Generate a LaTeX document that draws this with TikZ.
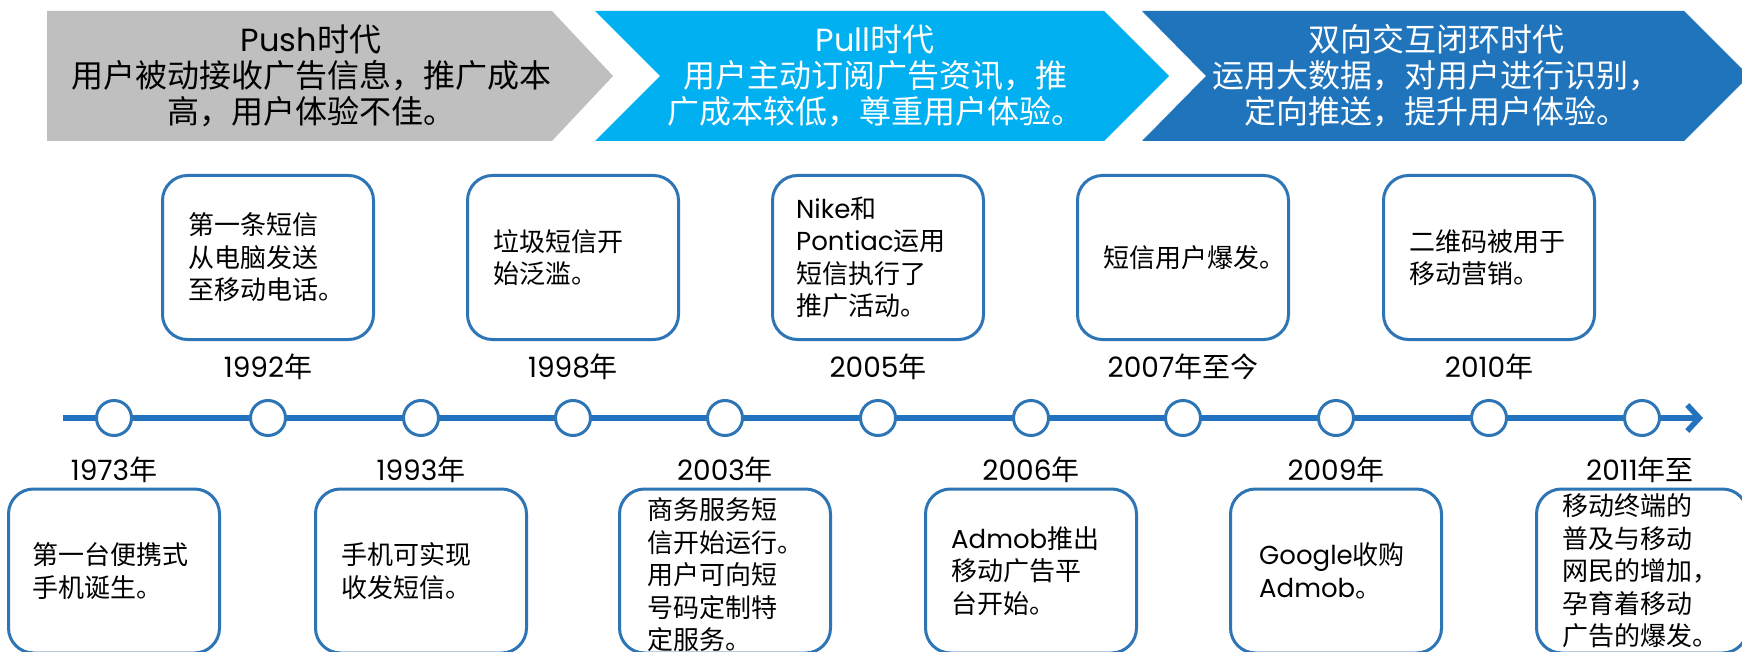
\documentclass[tikz,border=0pt]{standalone}
\usepackage{fontspec}
\setmainfont{Noto Sans CJK SC}
\newfontfamily\lat{Poppins}
\usetikzlibrary{arrows.meta}
\definecolor{tlblue}{HTML}{2272C0}
\definecolor{bordblue}{HTML}{2E75B6}
\definecolor{darkban}{HTML}{1F74BC}
\definecolor{cyanban}{HTML}{00B0F0}
\definecolor{grayban}{HTML}{BFBFBF}
\begin{document}
\begin{tikzpicture}[x=1pt,y=-1pt,
  evbox/.style={draw=bordblue, line width=3pt, rounded corners=25pt, minimum width=211pt, minimum height=164pt, fill=white, inner sep=0pt},
  evtext/.style={anchor=west, align=left, inner sep=0pt, font=\fontsize{26}{32.5}\selectfont},
  yeartext/.style={inner sep=0pt, font=\fontsize{28}{34}\selectfont},
  dot/.style={circle, draw=bordblue, line width=3pt, fill=white, minimum size=35pt, inner sep=0pt},
  bantext/.style={align=center, inner sep=0pt, font=\fontsize{32}{36}\selectfont},
  tline/.style={draw=tlblue, line width=5.5pt, -{Straight Barb[length=12pt,width=26pt]}}
]
\fill[white] (0,0) rectangle (1742,652);
\useasboundingbox (0,0) rectangle (1742,652);
\clip (0,0) rectangle (1742,652);

% banners
\fill[grayban] (47,11) -- (552,11) -- (613,76) -- (552,141) -- (47,141) -- cycle;
\fill[cyanban] (595,11) -- (1104,11) -- (1169,76) -- (1104,141) -- (595,141) -- (660,76) -- cycle;
\fill[darkban] (1142,11) -- (1684,11) -- (1749,76) -- (1684,141) -- (1142,141) -- (1206,76) -- cycle;
\node[bantext, text=black] (ban1) at (311,76) {{\lat Push}时代\\用户被动接收广告信息，推广成本\\高，用户体验不佳。};
\node[bantext, text=white] (ban2) at (875,76) {{\lat Pull}时代\\用户主动订阅广告资讯，推\\广成本较低，尊重用户体验。};
\node[bantext, text=white] (ban3) at (1436,76) {双向交互闭环时代\\运用大数据，对用户进行识别，\\定向推送，提升用户体验。};

% timeline
\coordinate (ls) at (63,418);
\coordinate (le) at (1703,418);
\draw[tline] (ls) -- (le);
\foreach \x [count=\i] in {114,268,421,573,725,878,1031,1183,1336,1489,1642}
  \node[dot] (c\i) at (\x,418) {};

% top boxes
\node[evbox] (tb1) at (268,257.5) {};
\node[evbox] (tb2) at (573,257.5) {};
\node[evbox] (tb3) at (878,257.5) {};
\node[evbox] (tb4) at (1183,257.5) {};
\node[evbox] (tb5) at (1489,257.5) {};
\node[evtext] (tt1) at ([xshift=27pt]tb1.west) {第一条短信\\从电脑发送\\至移动电话。};
\node[evtext] (tt2) at ([xshift=27pt]tb2.west) {垃圾短信开\\始泛滥。};
\node[evtext] (tt3) at ([xshift=25pt]tb3.west) {{\lat Nike}和\\{\lat Pontiac}运用\\短信执行了\\推广活动。};
\node[evtext] (tt4) at ([xshift=27pt]tb4.west) {短信用户爆发。};
\node[evtext] (tt5) at ([xshift=27pt]tb5.west) {二维码被用于\\移动营销。};

% bottom boxes
\node[evbox] (bb1) at (114,571) {};
\node[evbox] (bb2) at (421,571) {};
\node[evbox] (bb3) at (725,571) {};
\node[evbox] (bb4) at (1031,571) {};
\node[evbox] (bb5) at (1336,571) {};
\node[evbox] (bb6) at (1642,571) {};
\node[evtext] (bt1) at ([xshift=25pt]bb1.west) {第一台便携式\\手机诞生。};
\node[evtext] (bt2) at ([xshift=27pt]bb2.west) {手机可实现\\收发短信。};
\node[evtext] (bt3) at ([xshift=29pt,yshift=-4pt]bb3.west) {商务服务短\\信开始运行。\\用户可向短\\号码定制特\\定服务。};
\node[evtext] (bt4) at ([xshift=27pt]bb4.west) {{\lat Admob}推出\\移动广告平\\台开始。};
\node[evtext] (bt5) at ([xshift=30pt]bb5.west) {{\lat Google}收购\\{\lat Admob}。};
\node[evtext] (bt6) at ([xshift=27pt]bb6.west) {移动终端的\\普及与移动\\网民的增加，\\孕育着移动\\广告的爆发。};

% years above line
\node[yeartext] (y2) at (268,367) {{\lat 1992}年};
\node[yeartext] (y4) at (573,367) {{\lat 1998}年};
\node[yeartext] (y6) at (878,367) {{\lat 2005}年};
\node[yeartext] (y8) at (1183,367) {{\lat 2007}年至今};
\node[yeartext] (y10) at (1489,367) {{\lat 2010}年};
% years below line
\node[yeartext] (y1) at (114,470) {{\lat 1973}年};
\node[yeartext] (y3) at (421,470) {{\lat 1993}年};
\node[yeartext] (y5) at (725,470) {{\lat 2003}年};
\node[yeartext] (y7) at (1031,470) {{\lat 2006}年};
\node[yeartext] (y9) at (1336,470) {{\lat 2009}年};
\node[yeartext] (y11) at (1640,470) {{\lat 2011}年至};
\end{tikzpicture}
\end{document}
